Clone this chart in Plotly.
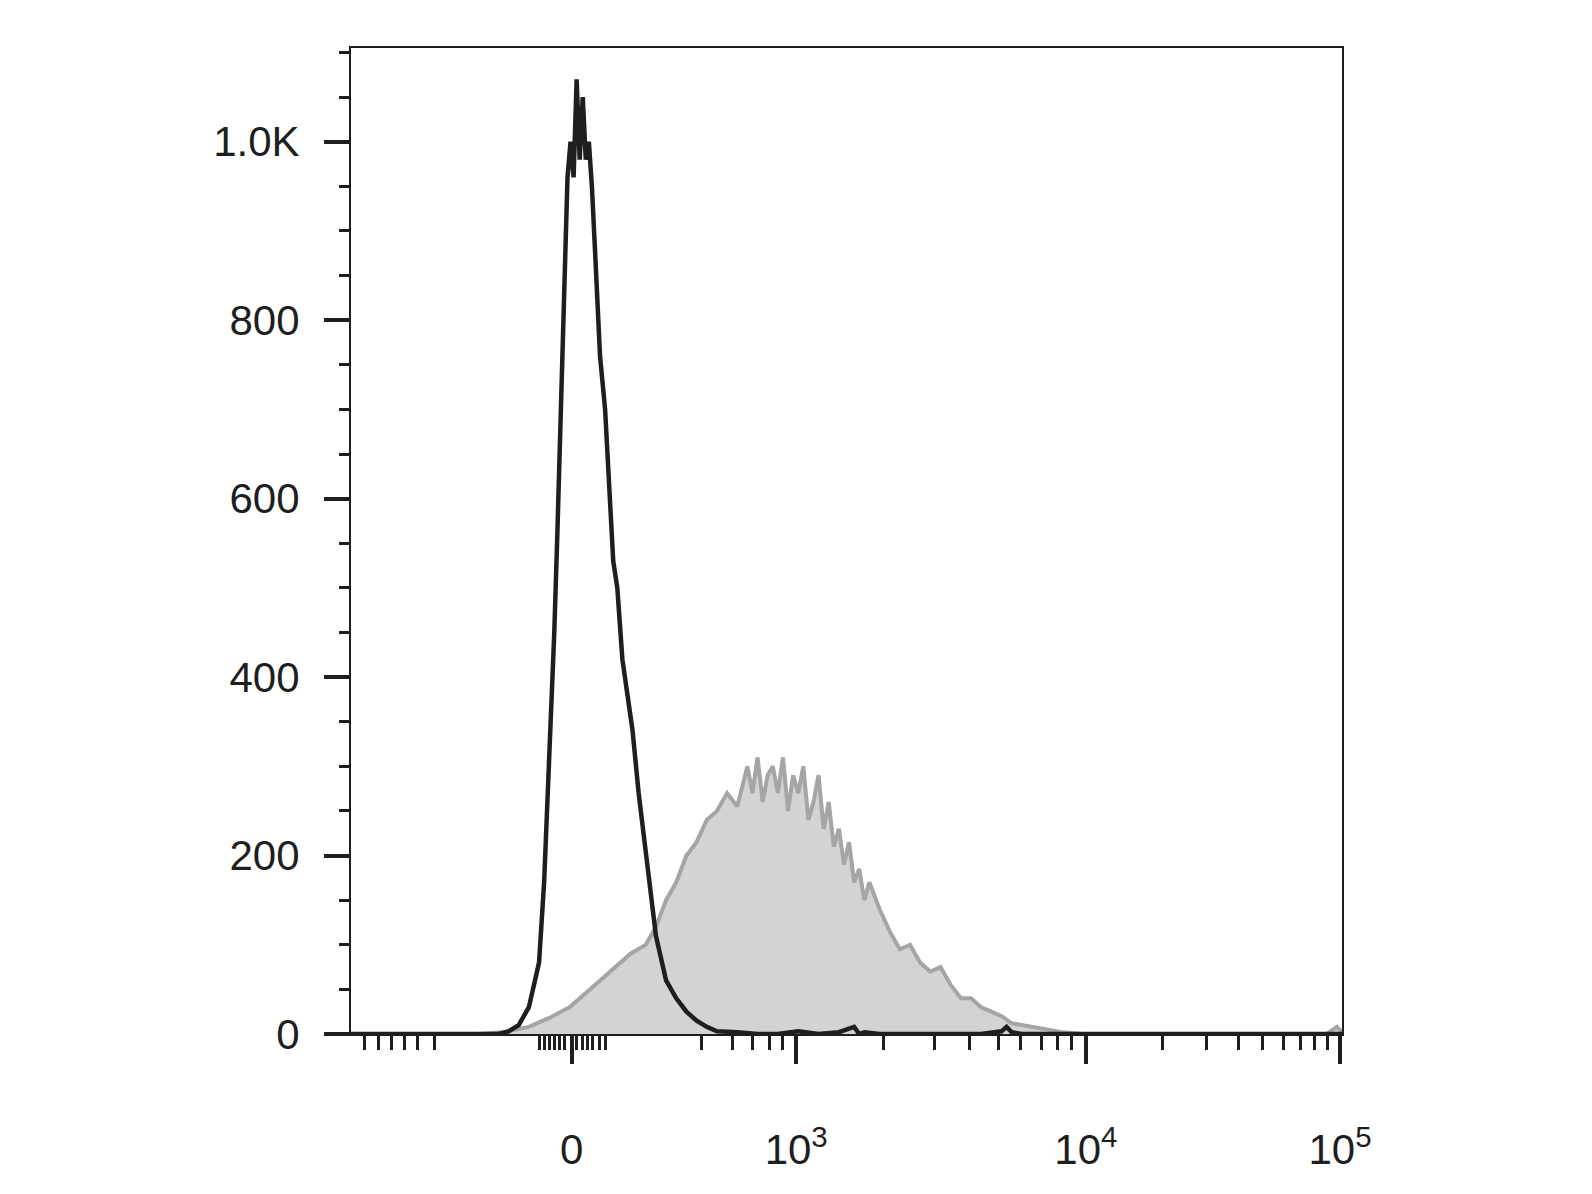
import plotly.graph_objects as go

# x in display (biexponential-transformed) units, 0..975
black_x = [0,100,145,155,165,175,185,190,195,200,203,206,210,213,216,219,222,225,228,231,234,237,240,245,250,255,258,262,267,272,277,283,290,300,310,320,330,340,350,360,380,400,420,440,460,480,495,500,505,520,540,560,580,600,620,640,645,650,660,700,800,975]
black_y = [0,0,0,3,10,30,80,170,300,450,560,680,830,960,1000,960,1070,980,1050,980,1000,950,880,760,700,600,530,500,420,380,340,270,200,110,60,40,25,15,8,3,2,0,0,3,0,2,8,0,2,0,0,0,0,0,0,3,8,2,0,0,0,0]

gray_x = [0,125,150,175,195,215,235,255,275,290,300,310,320,330,340,350,360,370,380,390,395,400,405,410,415,420,425,430,435,440,445,450,455,460,465,470,475,480,485,490,495,500,505,510,520,530,540,550,560,570,580,590,600,610,620,630,640,650,660,680,700,720,740,760,780,800,900,960,970,975]
gray_y = [0,0,2,8,18,30,50,70,90,100,120,150,170,200,215,240,250,270,255,300,270,310,260,290,300,270,310,250,290,270,300,240,260,290,230,260,210,230,190,215,170,185,150,170,140,115,95,100,80,70,75,55,40,40,30,25,20,12,10,5,2,0,0,0,0,0,0,0,8,2]

x_tickvals = [217, 438, 723, 973]
x_ticktext = ["0", "10<sup>3</sup>", "10<sup>4</sup>", "10<sup>5</sup>"]
x_minor = [13,27,40,53,65,82,185,190,195,200,205,210,222,228,233,238,244,250,345,375,395,412,425,524,574,609,637,659,679,695,709,798,842,873,897,917,934,948,961]

y_tickvals = [0,200,400,600,800,1000]
y_ticktext = ["0","200","400","600","800","1.0K"]

fig = go.Figure()
fig.add_trace(go.Scatter(x=gray_x, y=gray_y, mode="lines", fill="tozeroy",
                         fillcolor="rgb(211,211,211)", line=dict(color="rgb(165,165,165)", width=4)))
fig.add_trace(go.Scatter(x=black_x, y=black_y, mode="lines",
                         line=dict(color="rgb(30,30,30)", width=4.5)))
fig.update_layout(
    width=1592, height=1194, plot_bgcolor="white", paper_bgcolor="white",
    margin=dict(l=343, r=258, t=40, b=168), showlegend=False,
    font=dict(family="Liberation Sans, Arial", size=42, color="rgb(30,30,30)"),
)
fig.update_xaxes(range=[0, 975], showgrid=False, zeroline=False, showline=True, mirror=True,
                 linecolor="rgb(30,30,30)", linewidth=2, ticks="outside", ticklen=28, tickwidth=4,
                 tickcolor="rgb(30,30,30)", tickvals=x_tickvals, ticktext=x_ticktext,
                 ticklabelstandoff=50,
                 minor=dict(tickvals=x_minor, ticks="outside", ticklen=14, tickwidth=3, tickcolor="rgb(30,30,30)"))
fig.update_yaxes(range=[0, 1105], showgrid=False, zeroline=False, showline=True, mirror=True,
                 linecolor="rgb(30,30,30)", linewidth=2, ticks="outside", ticklen=25, tickwidth=4,
                 tickcolor="rgb(30,30,30)", tickvals=y_tickvals, ticktext=y_ticktext,
                 ticklabelstandoff=16,
                 minor=dict(dtick=50, ticks="outside", ticklen=10, tickwidth=3, tickcolor="rgb(30,30,30)"))
fig.write_html("out.html")
